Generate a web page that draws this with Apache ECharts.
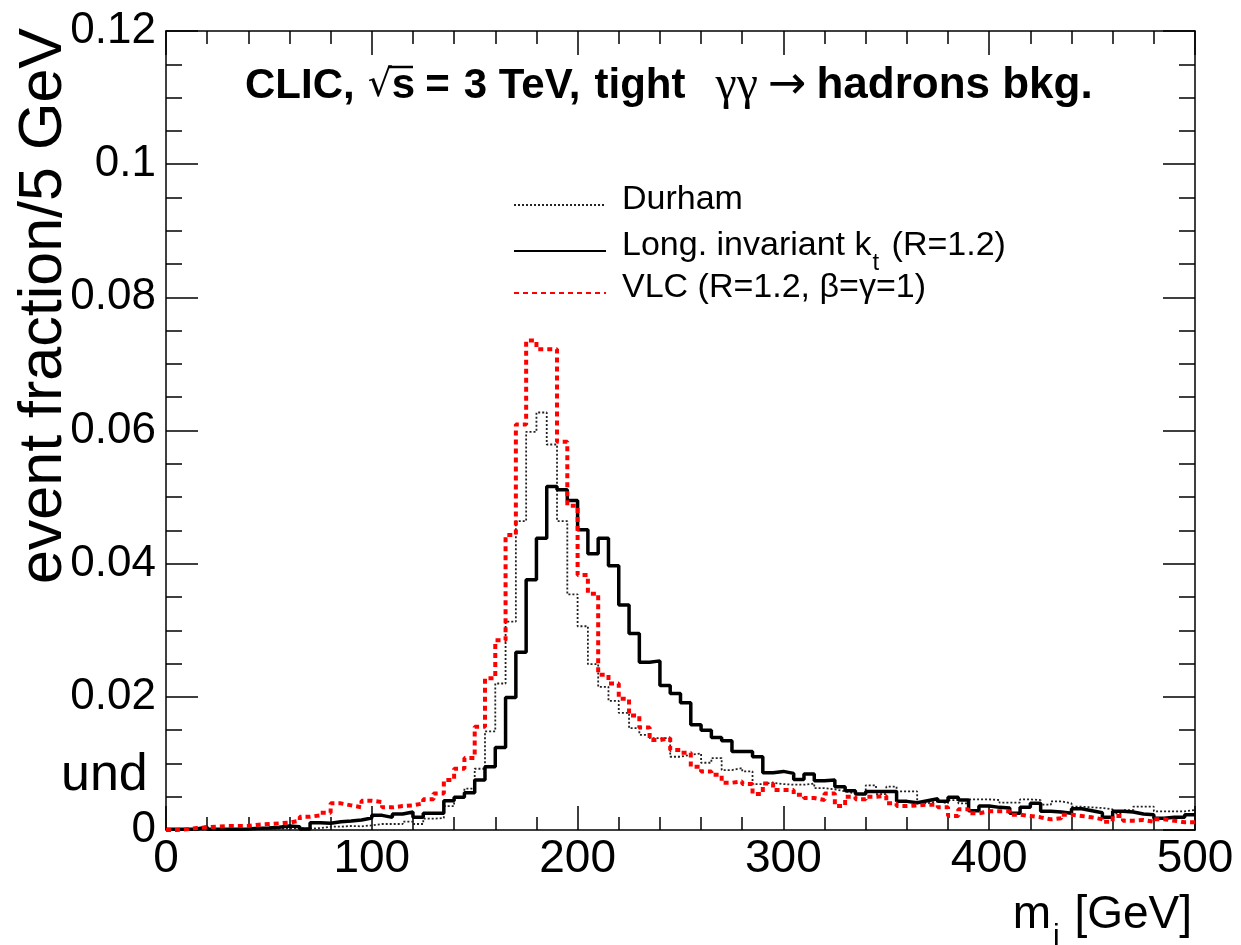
<!DOCTYPE html>
<html><head><meta charset="utf-8">
<script src="https://cdn.jsdelivr.net/npm/echarts@6/dist/echarts.min.js"></script>
<style>html,body{margin:0;padding:0;background:#fff}#c{width:1241px;height:945px}</style>
</head><body><div id="c"></div>
<script>
// 5 GeV bins, 0..500 GeV
const binWidth = 5;
const xTickLabels = [0, 100, 200, 300, 400, 500];
const yTickLabels = [0, 0.02, 0.04, 0.06, 0.08, 0.1, 0.12];

const durham = [0.00005,0.00005,0.0001,0.00005,0.0001,0.0001,0.0001,0.0001,0.0001,0.00015,
0.0002,0.0002,0.00025,0.0002,0.0003,0.0005,0.0005,0.0006,0.00055,0.0007,
0.0009,0.0009,0.0009,0.00125,0.0009,0.0017,0.0018,0.0036,0.0049,0.0062,
0.0092,0.0148,0.0220,0.0313,0.0464,0.0598,0.0627,0.0579,0.0464,0.0354,
0.0306,0.0249,0.0215,0.0194,0.0176,0.0153,0.0143,0.0138,0.0138,0.0110,
0.0113,0.0115,0.0101,0.0108,0.0090,0.0093,0.0088,0.0069,0.0071,0.0069,
0.0068,0.0068,0.0070,0.0063,0.0061,0.0058,0.0055,0.0053,0.0067,0.0054,
0.0065,0.0058,0.0058,0.0040,0.0043,0.0040,0.0045,0.0040,0.0046,0.0046,
0.0045,0.0041,0.0041,0.0046,0.0045,0.0038,0.0043,0.0040,0.0035,0.0034,
0.0033,0.0031,0.0025,0.0030,0.0035,0.0035,0.0028,0.0028,0.0028,0.0030];

const longKt = [0.0001,0.0001,0.00015,0.00045,0.0001,0.0001,0.0001,0.00015,0.00025,0.0003,
0.0004,0.0006,0.0005,0.00015,0.0011,0.0010,0.00125,0.00135,0.0015,0.0018,
0.0022,0.0019,0.0024,0.0027,0.0019,0.0025,0.0025,0.0044,0.0049,0.0056,
0.0075,0.0095,0.0124,0.0199,0.0267,0.0376,0.0438,0.0516,0.0511,0.0495,
0.0451,0.0415,0.0438,0.0397,0.0338,0.0295,0.0252,0.0254,0.0217,0.0205,
0.0191,0.0158,0.0150,0.0139,0.0134,0.0118,0.0118,0.0110,0.0086,0.0088,
0.0085,0.0076,0.0084,0.0074,0.0075,0.0065,0.0059,0.0054,0.0058,0.0058,
0.0058,0.0043,0.0041,0.0044,0.0047,0.0043,0.0049,0.0045,0.0029,0.0036,
0.0034,0.0033,0.0025,0.0034,0.0040,0.0028,0.0027,0.0025,0.0032,0.0029,
0.0026,0.0019,0.0028,0.0027,0.0024,0.0023,0.00175,0.0019,0.0019,0.0023];

const vlc = [0.0000,0.0001,0.0003,0.0004,0.0005,0.0006,0.0006,0.0006,0.0008,0.0009,
0.0010,0.0011,0.0014,0.0020,0.0022,0.0026,0.0040,0.0037,0.0034,0.0044,
0.0042,0.0034,0.0036,0.0037,0.0040,0.0046,0.0055,0.0075,0.0092,0.0108,
0.0155,0.0228,0.0285,0.0443,0.0609,0.0735,0.0722,0.0722,0.0583,0.0487,
0.0383,0.0355,0.0233,0.0220,0.0197,0.0172,0.0154,0.0135,0.0138,0.0120,
0.0116,0.0095,0.0088,0.0083,0.0071,0.0073,0.0069,0.0054,0.0070,0.0060,
0.0060,0.0053,0.0048,0.0045,0.0055,0.0036,0.0050,0.0046,0.0050,0.0051,
0.0040,0.0036,0.0037,0.0038,0.0038,0.0034,0.0021,0.0031,0.0025,0.0028,
0.0028,0.0028,0.0023,0.0021,0.0019,0.0016,0.00175,0.0023,0.0021,0.0019,
0.0016,0.00125,0.0021,0.0014,0.0015,0.00125,0.0016,0.0014,0.00115,0.00115];

const seriesNames = ['Durham', 'Long. invariant kt (R=1.2)', 'VLC (R=1.2, \u03b2=\u03b3=1)'];

function steps(arr) {
  const d = arr.map((v, i) => [i * binWidth, v]);
  d.push([arr.length * binWidth, arr[arr.length - 1]]);
  return d;
}

const FONT = 'Liberation Sans';
const chart = echarts.init(document.getElementById('c'), null, {renderer: 'canvas'});

const axisLine = {show: true, onZero: false, lineStyle: {color: '#000', width: 1.5}};
const tickLine = {color: '#000', width: 1.5};

function xAx(pos, labels) {
  return {
    type: 'value', min: 0, max: 500, interval: 100, position: pos,
    axisLine: axisLine, splitLine: {show: false},
    axisTick: {show: true, inside: true, length: 24, lineStyle: tickLine},
    minorTick: {show: true, splitNumber: 5, length: 13, lineStyle: tickLine},
    minorSplitLine: {show: false},
    axisLabel: labels ? {show: true, fontSize: 46, fontFamily: FONT, color: '#000', margin: 6,
      formatter: v => xTickLabels.includes(v) ? String(v) : ''} : {show: false}
  };
}
function yAx(pos, labels) {
  return {
    type: 'value', min: 0, max: 0.12, interval: 0.02, position: pos,
    axisLine: axisLine, splitLine: {show: false},
    axisTick: {show: true, inside: true, length: 32, lineStyle: tickLine},
    minorTick: {show: true, splitNumber: 4, length: 16, lineStyle: tickLine},
    minorSplitLine: {show: false},
    axisLabel: labels ? {show: true, fontSize: 44, fontFamily: FONT, color: '#000', margin: 10,
      formatter: v => { const t = yTickLabels.find(x => Math.abs(x - v) < 1e-9); return t === undefined ? '' : String(t); }} : {show: false}
  };
}

const legendRich = {
  p: {fontSize: 34, fontFamily: FONT, color: '#000', lineHeight: 44, verticalAlign: 'top', padding: [0, 0, 0, 11]},
  n: {fontSize: 34, fontFamily: FONT, color: '#000', lineHeight: 44, verticalAlign: 'top'},
  s: {fontSize: 24, fontFamily: FONT, color: '#000', lineHeight: 22, verticalAlign: 'top', padding: [22, 3, 0, 1]}
};
function legendAt(name, top) {
  return {
    orient: 'vertical', left: 513, top: top, padding: 0, itemWidth: 92, itemHeight: 14,
    itemStyle: {opacity: 0, borderWidth: 0},
    data: [name],
    formatter: n => n === seriesNames[1]
      ? '{p|Long. invariant k}{s|t}{n| (R=1.2)}'
      : '{p|' + n + '}',
    textStyle: {color: '#000', fontFamily: FONT, fontSize: 34, rich: legendRich}
  };
}

const option = {
  backgroundColor: '#fff',
  animation: false,
  grid: {left: 166, right: 46, top: 31, bottom: 115, containLabel: false},
  xAxis: [xAx('bottom', true), xAx('top', false)],
  yAxis: [yAx('left', true), yAx('right', false)],
  legend: [legendAt(seriesNames[0], 183), legendAt(seriesNames[1], 229), legendAt(seriesNames[2], 271)],
  series: [
    {name: seriesNames[0], type: 'line', step: 'end', data: steps(durham), showSymbol: false, symbol: 'none',
     xAxisIndex: 0, yAxisIndex: 0, itemStyle: {color: '#222'},
     lineStyle: {color: '#222', width: 1.8, type: [2, 2]}, z: 2},
    {name: seriesNames[1], type: 'line', step: 'end', data: steps(longKt), showSymbol: false, symbol: 'none',
     xAxisIndex: 0, yAxisIndex: 0, itemStyle: {color: '#000'},
     lineStyle: {color: '#000', width: 3.5, type: 'solid'}, z: 3},
    {name: seriesNames[2], type: 'line', step: 'end', data: steps(vlc), showSymbol: false, symbol: 'none',
     xAxisIndex: 0, yAxisIndex: 0, itemStyle: {color: '#ff0000'},
     lineStyle: {color: '#ff0000', width: 4, type: [5, 4]}, z: 4}
  ],
  graphic: [
    {type: 'text', left: 245, top: 62, z: 10, style: {
      text: '{b|CLIC,}{r|\u221a}{s|s}{e|=}{b3|3 TeV,}{t|tight}{g|\u03b3\u03b3}{a|\u2192}{h|hadrons bkg.}',
      rich: {
        b: {fontSize: 42, fontWeight: 'bold', fontFamily: FONT, fill: '#000', padding: [0, 0, 0, 0]},
        r: {fontSize: 38, fontFamily: 'DejaVu Sans', fill: '#000', padding: [0, 0, 0, 13]},
        s: {fontSize: 42, fontWeight: 'bold', fontFamily: FONT, fill: '#000'},
        e: {fontSize: 42, fontWeight: 'bold', fontFamily: FONT, fill: '#000', padding: [0, 0, 0, 10]},
        b3: {fontSize: 42, fontWeight: 'bold', fontFamily: FONT, fill: '#000', padding: [0, 0, 0, 14]},
        t: {fontSize: 42, fontWeight: 'bold', fontFamily: FONT, fill: '#000', padding: [0, 0, 0, 14]},
        g: {fontSize: 48, fontFamily: 'Liberation Serif', fill: '#000', padding: [0, 0, 0, 30]},
        a: {fontSize: 46, fontFamily: 'DejaVu Sans', fill: '#000', padding: [0, 10, 0, 10]},
        h: {fontSize: 44, fontWeight: 'bold', fontFamily: FONT, fill: '#000'}
      }
    }},
    {type: 'line', z: 10, shape: {x1: 388, y1: 67, x2: 413, y2: 67}, style: {stroke: '#000', lineWidth: 2.5}},
    {type: 'text', x: 44, y: 28, rotation: Math.PI / 2, z: 10, style: {
      text: 'event fraction/5 GeV', fontSize: 61, fontFamily: FONT, fill: '#000',
      align: 'right', verticalAlign: 'middle'
    }},
    {type: 'text', right: 49, top: 892, z: 10, style: {
      text: '{m|m}{j|j}{m| [GeV]}',
      rich: {
        m: {fontSize: 46, fontFamily: FONT, fill: '#000', verticalAlign: 'top', lineHeight: 50},
        j: {fontSize: 30, fontFamily: FONT, fill: '#000', verticalAlign: 'top', lineHeight: 30, padding: [30, 2, 0, 2]}
      }
    }},
    {type: 'text', left: 61, top: 750, z: 10, style: {
      text: 'und', fontSize: 52, fontFamily: FONT, fill: '#000'
    }}
  ]
};
chart.setOption(option);
</script></body></html>
